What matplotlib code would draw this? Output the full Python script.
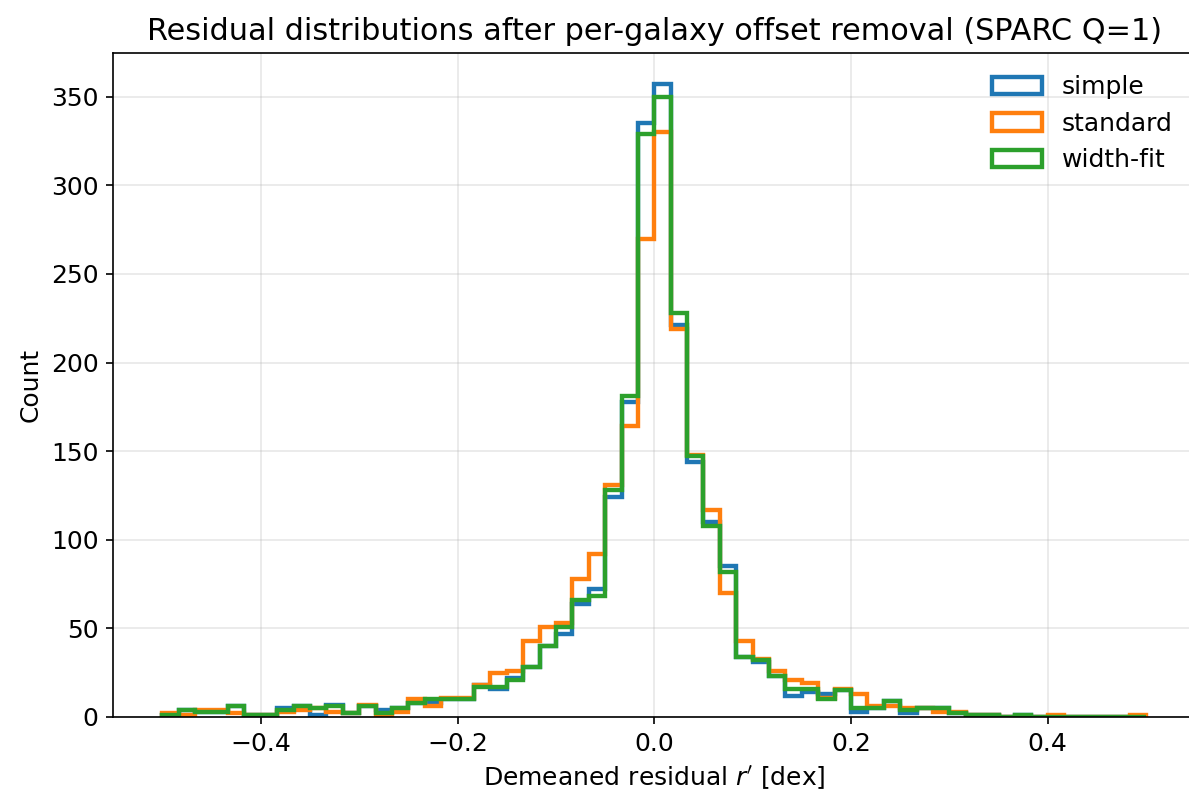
import numpy as np
import matplotlib
matplotlib.use("Agg")
import matplotlib.pyplot as plt

# 60 bins over [-0.5, 0.5] dex, counts
BIN_LO, BIN_HI, N_BINS = -0.5, 0.5, 60

simple = [1, 4, 3, 3, 6, 1, 1, 5, 6, 1,
          7, 2, 6, 4, 5, 8, 8, 10, 10, 18,
          16, 22, 28, 40, 47, 64, 72, 124, 178, 335,
          357, 221, 144, 110, 85, 34, 31, 23, 12, 14,
          13, 15, 3, 5, 9, 2, 5, 5, 2, 1,
          1, 0, 1, 0, 0, 0, 0, 0, 0, 0]

standard = [2, 1, 4, 4, 2, 1, 1, 3, 4, 5,
            3, 2, 7, 1, 3, 10, 6, 11, 11, 18,
            25, 26, 43, 51, 53, 78, 92, 131, 164, 270,
            330, 219, 148, 117, 70, 43, 33, 26, 21, 19,
            11, 16, 13, 6, 6, 5, 5, 3, 3, 1,
            1, 0, 0, 0, 1, 0, 0, 0, 0, 1]

width_fit = [1, 4, 3, 3, 6, 1, 1, 4, 6, 5,
             6, 2, 6, 2, 5, 8, 10, 10, 10, 17,
             17, 21, 28, 40, 51, 66, 68, 128, 181, 329,
             350, 228, 147, 108, 82, 34, 32, 23, 16, 16,
             10, 15, 5, 5, 9, 4, 5, 5, 2, 1,
             1, 0, 1, 0, 0, 0, 0, 0, 0, 0]

labels = ["simple", "standard", "width-fit"]
colors = ["#1f77b4", "#ff7f0e", "#2ca02c"]


def main():
    plt.rcParams["font.size"] = 12
    edges = np.linspace(BIN_LO, BIN_HI, N_BINS + 1)
    centers = 0.5 * (edges[:-1] + edges[1:])

    W, H = 1189, 795
    fig, ax = plt.subplots(figsize=(W / 150, H / 150), dpi=150)
    # the reference is clipped on the right: the axes runs a little past the edge
    fig.subplots_adjust(left=113.3 / W, right=1195.3 / W, top=1 - 52.7 / H, bottom=1 - 717 / H)
    for counts, lab, col in zip([simple, standard, width_fit], labels, colors):
        ax.hist(centers, bins=edges, weights=counts, histtype="step",
                linewidth=2.1, color=col, label=lab)

    ax.set_title("Residual distributions after per-galaxy offset removal (SPARC Q=1)",
                 fontsize=14.5)
    ax.set_xlabel(r"Demeaned residual $r'$ [dex]")
    ax.set_ylabel("Count")
    ax.grid(True, alpha=0.3)
    ax.legend(frameon=False, loc="upper right")
    fig.savefig("out.png", dpi=150)
    plt.close(fig)


if __name__ == "__main__":
    main()
